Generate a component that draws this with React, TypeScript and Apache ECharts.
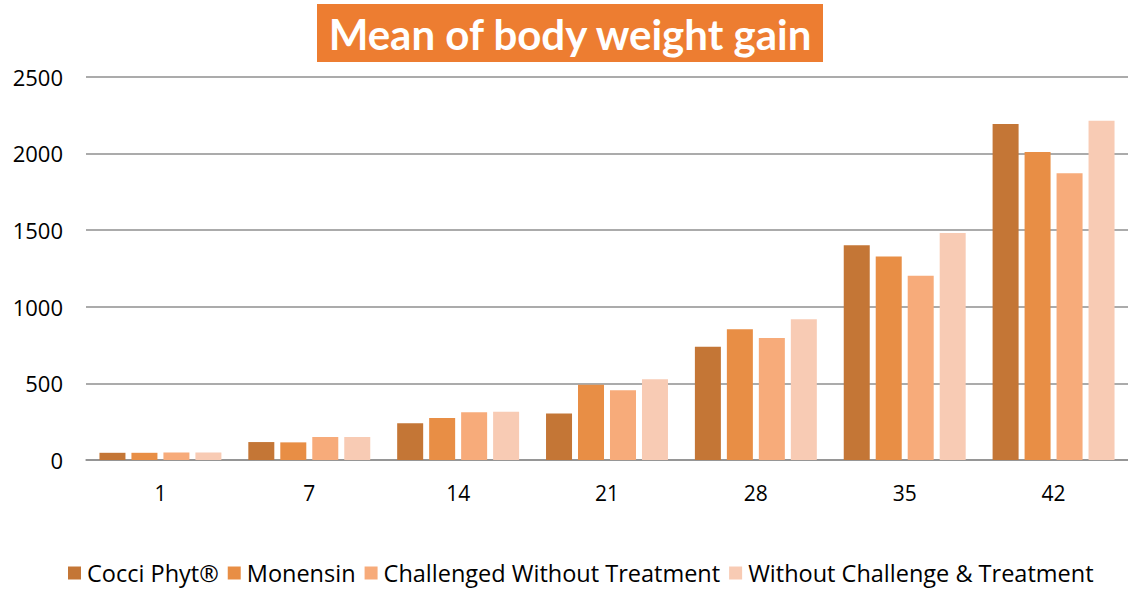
import React, { useEffect, useRef } from "react";
import * as echarts from "echarts";

const days = ["1", "7", "14", "21", "28", "35", "42"];
const cocciPhyt = [47, 117, 239, 304, 739, 1400, 2191];
const monensin = [47, 115, 274, 491, 852, 1328, 2009];
const challenged = [49, 150, 311, 455, 796, 1202, 1870];
const withoutBoth = [49, 150, 315, 526, 918, 1480, 2213];
const seriesNames = [
  "Cocci Phyt®",
  "Monensin",
  "Challenged Without Treatment",
  "Without Challenge & Treatment",
];
const colors = ["#C47636", "#E88E45", "#F7AB7A", "#F8CBB4"];

export default function App() {
  const ref = useRef<HTMLDivElement>(null);
  useEffect(() => {
    if (!ref.current) return;
    const chart = echarts.init(ref.current, null, { renderer: "svg" });
    const font = "'Open Sans', sans-serif";
    const data = [cocciPhyt, monensin, challenged, withoutBoth];
    chart.setOption({
      animation: false,
      backgroundColor: "#ffffff",
      grid: { left: 86, top: 76.7, width: 1045, height: 383.3, containLabel: false },
      graphic: [
        {
          type: "rect",
          shape: { x: 317, y: 4, width: 506, height: 58 },
          style: { fill: "#ED7D31" },
        },
        {
          type: "text",
          x: 570,
          y: 34,
          style: {
            text: "Mean of body weight gain",
            fill: "#ffffff",
            font: "bold 42px Lato, sans-serif",
            textAlign: "center",
            textVerticalAlign: "middle",
          },
        },
      ],
      legend: {
        top: 561,
        left: 68,
        padding: 0,
        itemWidth: 13,
        itemHeight: 13,
        itemGap: 9,
        icon: "rect",
        textStyle: { fontFamily: font, fontSize: 23.5, color: "#000", padding: [0, 0, 0, 1] },
        data: seriesNames,
      },
      xAxis: {
        type: "category",
        data: days,
        axisTick: { show: false },
        axisLine: { lineStyle: { color: "#8f8f8f", width: 1.5 } },
        axisLabel: { fontFamily: font, fontSize: 21, color: "#000", margin: 22 },
      },
      yAxis: {
        type: "value",
        min: 0,
        max: 2500,
        interval: 500,
        axisLine: { show: false },
        axisTick: { show: false },
        splitLine: { lineStyle: { color: "#8f8f8f", width: 1.5 } },
        axisLabel: {
          fontFamily: font,
          fontSize: 22,
          color: "#000",
          margin: 23,
          formatter: (v: number) => String(v),
        },
      },
      series: seriesNames.map((name, i) => ({
        name,
        type: "bar",
        data: data[i],
        barWidth: 26,
        barGap: "23%",
        itemStyle: { color: colors[i] },
      })),
    });
    return () => chart.dispose();
  }, []);
  return (
    <div
      ref={ref}
      style={{ position: "fixed", left: 0, top: 0, width: 1128, height: 590 }}
    />
  );
}
